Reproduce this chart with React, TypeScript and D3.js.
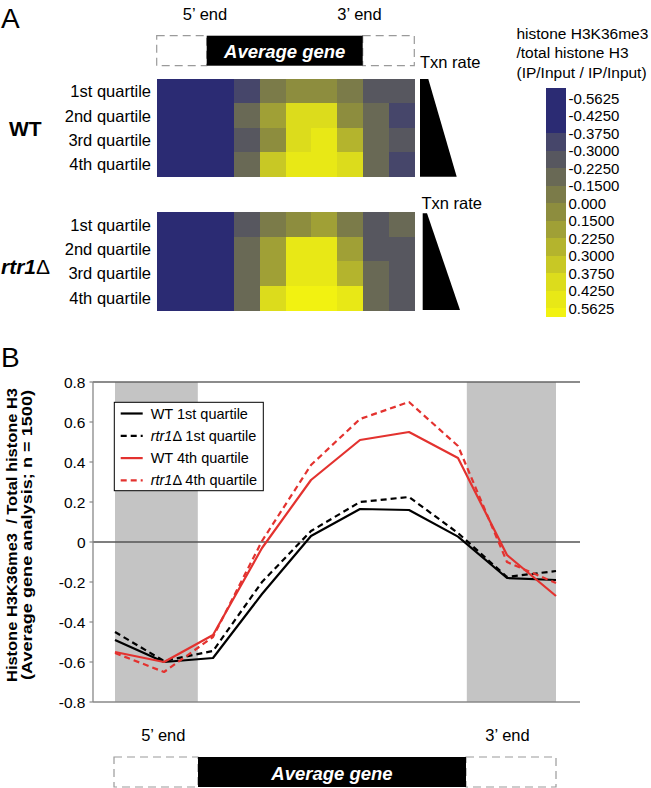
import React from "react";
import * as d3 from "d3";

// ---------- DATA ----------
const quartileLabels = ["1st quartile", "2nd quartile", "3rd quartile", "4th quartile"];
const palette = [
  "#2b2b73", "#46466a", "#57575f", "#696955", "#7b7b49", "#8d8d3e",
  "#a0a036", "#b4b42d", "#c8c825", "#dcdc1c", "#e8e816", "#f2f211",
];
const colorbarLabels = [
  "-0.5625", "-0.4250", "-0.3750", "-0.3000", "-0.2250", "-0.1500", "0.000",
  "0.1500", "0.2250", "0.3000", "0.3750", "0.4250", "0.5625",
];
// palette level of each heatmap cell (rows = quartiles, cols = gene bins)
const wtLevels = [
  [0, 0, 0, 1, 4, 5, 5, 4, 2, 2],
  [0, 0, 0, 3, 6, 9, 9, 5, 3, 1],
  [0, 0, 0, 2, 5, 9, 10, 7, 3, 2],
  [0, 0, 0, 3, 8, 10, 10, 9, 3, 1],
];
const rtrLevels = [
  [0, 0, 0, 2, 4, 5, 6, 4, 2, 3],
  [0, 0, 0, 3, 6, 10, 10, 6, 2, 2],
  [0, 0, 0, 3, 6, 10, 10, 7, 3, 2],
  [0, 0, 0, 3, 9, 11, 11, 10, 3, 2],
];

const wt1st = [-0.49, -0.6, -0.58, -0.26, 0.03, 0.165, 0.16, 0.027, -0.18, -0.19];
const rtr1st = [-0.45, -0.595, -0.545, -0.2, 0.055, 0.2, 0.225, 0.045, -0.175, -0.145];
const wt4th = [-0.55, -0.6, -0.465, -0.03, 0.31, 0.51, 0.55, 0.42, -0.065, -0.27];
const rtr4th = [-0.555, -0.65, -0.475, 0.005, 0.385, 0.615, 0.7, 0.48, -0.1, -0.205];

const yTicks = [0.8, 0.6, 0.4, 0.2, 0, -0.2, -0.4, -0.6, -0.8];
const yTickLabels = ["0.8", "0.6", "0.4", "0.2", "0", "-0.2", "-0.4", "-0.6", "-0.8"];

const RED = "#e3322f";
const series = [
  { name: "WT", q: "1st quartile", values: wt1st, color: "#000", dash: null },
  { name: "rtr1", q: "1st quartile", values: rtr1st, color: "#000", dash: "6,4" },
  { name: "WT", q: "4th quartile", values: wt4th, color: RED, dash: null },
  { name: "rtr1", q: "4th quartile", values: rtr4th, color: RED, dash: "6,4" },
];

const FONT = "'Liberation Sans', Arial, Helvetica, sans-serif";

// ---------- COMPONENTS ----------
function Heatmap({ levels, top }: { levels: number[][]; top: number }) {
  const x = d3.scaleBand<number>().domain(d3.range(10)).range([156.7, 414.3]);
  const y = d3.scaleBand<number>().domain(d3.range(4)).range([top, top + 97.7]);
  return (
    <g>
      <g shapeRendering="crispEdges">
        {levels.map((row, r) =>
          row.map((lv, c) => (
            <rect
              key={`${r}-${c}`}
              x={x(c)}
              y={y(r)}
              width={x.bandwidth() + 0.6}
              height={y.bandwidth() + 0.6}
              fill={palette[lv]}
            />
          ))
        )}
      </g>
      {quartileLabels.map((t, r) => (
        <text
          key={t}
          x={151}
          y={(y(r) as number) + y.bandwidth() / 2}
          textAnchor="end"
          dominantBaseline="central"
          fontSize={16.5}
        >
          {t}
        </text>
      ))}
    </g>
  );
}

function GeneBar({ x0, x1, x2, x3, y, h, fs }: any) {
  return (
    <g>
      <rect x={x0} y={y} width={x1 - x0} height={h} fill="#fff" stroke="#9a9a9a" strokeWidth={1.2} strokeDasharray="8,5" />
      <rect x={x2} y={y} width={x3 - x2} height={h} fill="#fff" stroke="#9a9a9a" strokeWidth={1.2} strokeDasharray="8,5" />
      <rect x={x1} y={y} width={x2 - x1} height={h} fill="#000" />
      <text
        x={(x1 + x2) / 2}
        y={y + h / 2 + 1}
        textAnchor="middle"
        dominantBaseline="central"
        fill="#fff"
        fontWeight="bold"
        fontStyle="italic"
        fontSize={fs}
      >
        Average gene
      </text>
    </g>
  );
}

export default function App() {
  // colorbar
  const cbLabelY = d3.scaleLinear().domain([0, 12]).range([98.3, 308.3]);
  const cbTop = 88;
  const cbBottom = 316;
  const cbBounds = [cbTop, ...d3.range(2, 13).map((i) => cbLabelY(i)), cbBottom];

  // line chart
  const x = d3.scaleLinear().domain([0, 9]).range([115, 556]);
  const y = d3.scaleLinear().domain([-0.8, 0.8]).range([702, 382]);
  const plotLeft = 93;
  const plotRight = 580;
  const line = d3
    .line<number>()
    .x((_, i) => x(i))
    .y((d) => y(d));

  return (
    <svg
      width={651}
      height={788}
      style={{ position: "absolute", left: 0, top: 0, background: "#fff" }}
      fontFamily={FONT}
    >
      <rect width={651} height={788} fill="#fff" />
      {/* ---------- Panel A ---------- */}
      <text x={1} y={28} fontSize={28}>A</text>
      <text x={205} y={14} textAnchor="middle" dominantBaseline="central" fontSize={16.5}>5’ end</text>
      <text x={359.5} y={14} textAnchor="middle" dominantBaseline="central" fontSize={16.5}>3’ end</text>
      <GeneBar x0={156.7} x1={206.7} x2={362.7} x3={414.3} y={35.7} h={30} fs={18.5} />

      <Heatmap levels={wtLevels} top={79} />
      <Heatmap levels={rtrLevels} top={212.3} />

      <text x={9} y={128} dominantBaseline="central" fontSize={21} fontWeight="bold">WT</text>
      <text x={1} y={266} dominantBaseline="central" fontSize={21} fontWeight="bold">
        <tspan fontStyle="italic">rtr1</tspan>
        <tspan fontWeight="normal">Δ</tspan>
      </text>

      <text x={420} y={62} dominantBaseline="central" fontSize={16.5}>Txn rate</text>
      <path d="M420,79 L428.3,79 L456.7,176.7 L420,176.7 Z" fill="#000" />
      <text x={421.5} y={203} dominantBaseline="central" fontSize={16.5}>Txn rate</text>
      <path d="M422.7,213.3 L427,213.3 L460,310 L422.7,310 Z" fill="#000" />

      {/* colorbar legend */}
      <text x={516.5} y={33} dominantBaseline="central" fontSize={15.5}>histone H3K36me3</text>
      <text x={516.5} y={52.5} dominantBaseline="central" fontSize={15.5}>/total histone H3</text>
      <text x={516.5} y={72} dominantBaseline="central" fontSize={15.5}>(IP/Input / IP/Input)</text>
      <g shapeRendering="crispEdges">
        {palette.map((c, i) => (
          <rect key={c} x={545.7} y={cbBounds[i]} width={20} height={cbBounds[i + 1] - cbBounds[i] + 0.5} fill={c} />
        ))}
      </g>
      {colorbarLabels.map((t, i) => (
        <text key={t} x={568.5} y={cbLabelY(i)} dominantBaseline="central" fontSize={15}>
          {t}
        </text>
      ))}

      {/* ---------- Panel B ---------- */}
      <text x={1} y={367} fontSize={28}>B</text>

      {/* grey bands */}
      <rect x={x(0)} y={y(0.8)} width={x(1.69) - x(0)} height={y(-0.8) - y(0.8)} fill="#c4c4c4" />
      <rect x={x(7.18)} y={y(0.8)} width={x(9) - x(7.18)} height={y(-0.8) - y(0.8)} fill="#c4c4c4" />

      {/* horizontal reference lines */}
      <line x1={plotLeft} x2={plotRight} y1={y(0.8)} y2={y(0.8)} stroke="#666" strokeWidth={1.3} />
      <line x1={plotLeft} x2={plotRight} y1={y(0)} y2={y(0)} stroke="#555" strokeWidth={1.3} />
      <line x1={plotLeft} x2={plotRight} y1={y(-0.8)} y2={y(-0.8)} stroke="#888" strokeWidth={1.3} />
      <line x1={plotLeft} x2={plotLeft} y1={y(0.8)} y2={y(-0.8)} stroke="#888" strokeWidth={1.3} />

      {yTicks.map((t, i) => (
        <g key={t}>
          <line x1={plotLeft - 3.5} x2={plotLeft} y1={y(t)} y2={y(t)} stroke="#888" strokeWidth={1.2} />
          <text x={85.5} y={y(t)} textAnchor="end" dominantBaseline="central" fontSize={15.5}>
            {yTickLabels[i]}
          </text>
        </g>
      ))}

      {/* y axis label */}
      <g transform="translate(12,535) rotate(-90)">
        <text
          textAnchor="middle"
          dominantBaseline="central"
          fontSize={14.5}
          fontWeight="bold"
          xmlSpace="preserve"
          textLength={294}
          lengthAdjust="spacingAndGlyphs"
        >
          Histone H3K36me3  / Total histone H3
        </text>
      </g>
      <g transform="translate(27,535) rotate(-90)">
        <text
          textAnchor="middle"
          dominantBaseline="central"
          fontSize={14.5}
          fontWeight="bold"
          textLength={290}
          lengthAdjust="spacingAndGlyphs"
        >
          (Average gene analysis; n = 1500)
        </text>
      </g>

      {/* series lines */}
      {series.map((s, i) => (
        <path
          key={i}
          d={line(s.values) || ""}
          fill="none"
          stroke={s.color}
          strokeWidth={2.2}
          strokeDasharray={s.dash || undefined}
          strokeLinejoin="round"
        />
      ))}

      {/* legend */}
      <rect x={114.3} y={402.3} width={149} height={88.4} fill="#fff" stroke="#000" strokeWidth={1} />
      {series.map((s, i) => {
        const ly = 413.5 + i * 22.3;
        return (
          <g key={i}>
            <line x1={120.7} x2={142.7} y1={ly} y2={ly} stroke={s.color} strokeWidth={2.2} strokeDasharray={s.dash || undefined} />
            <text x={150.7} y={ly} dominantBaseline="central" fontSize={14.5}>
              {s.name === "rtr1" ? (
                <>
                  <tspan fontStyle="italic">rtr1</tspan>
                  <tspan>Δ {s.q}</tspan>
                </>
              ) : (
                `${s.name} ${s.q}`
              )}
            </text>
          </g>
        );
      })}

      {/* bottom gene bar */}
      <text x={163.3} y={735} textAnchor="middle" dominantBaseline="central" fontSize={16.5}>5’ end</text>
      <text x={507.5} y={735} textAnchor="middle" dominantBaseline="central" fontSize={16.5}>3’ end</text>
      <GeneBar x0={114} x1={198} x2={466} x3={556} y={757} h={30} fs={18.5} />
    </svg>
  );
}
